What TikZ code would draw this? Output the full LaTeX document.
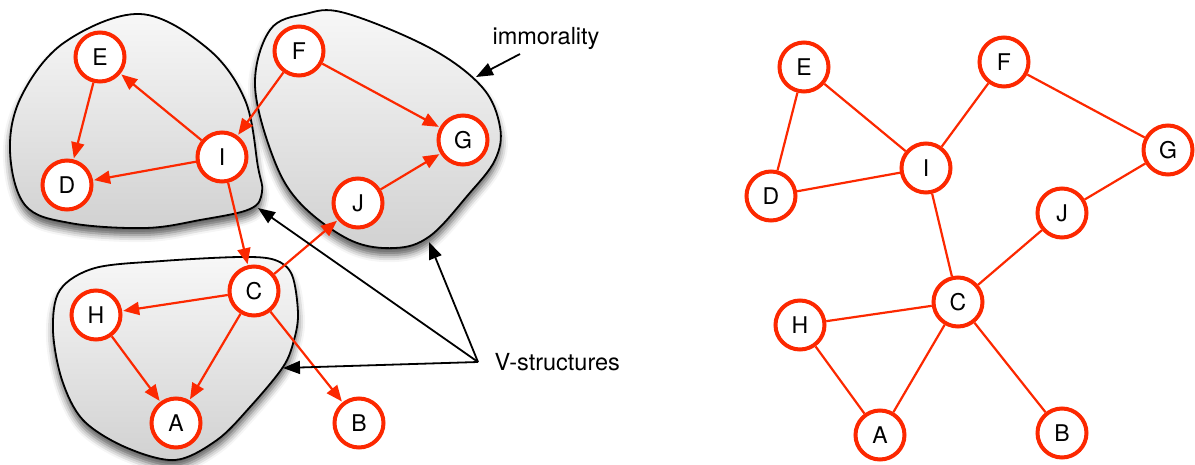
\documentclass[tikz,border=0pt]{standalone}
\usepackage{fontspec}
\setmainfont{TeX Gyre Heros}
\usetikzlibrary{arrows.meta,shadows.blur}
\definecolor{gred}{RGB}{252,40,0}
\tikzset{
  gnode/.style={circle,draw=gred,line width=4pt,fill=white,minimum size=49pt,inner sep=0pt,
    font=\fontsize{23}{26}\selectfont},
  darr/.style={draw=gred,line width=2.2pt,-{Triangle[length=16pt,width=13pt]},shorten >=1pt},
  uedge/.style={draw=gred,line width=2.2pt},
  blackarr/.style={draw=black,line width=1.8pt,-{Triangle[length=17pt,width=13pt]}},
  blob/.style={draw=black,line width=1.8pt,top color=gray!6,bottom color=gray!36,
    blur shadow={shadow xshift=0pt,shadow yshift=-7pt,shadow blur radius=7pt,shadow opacity=65}},
  lbl/.style={font=\fontsize{23.5}{26}\selectfont}
}
\begin{document}
\begin{tikzpicture}[x=1pt,y=-1pt]
\useasboundingbox (0,0) rectangle (1195,464);
% blobs
\path[blob] plot[smooth cycle,tension=0.6] coordinates {
 (140,14) (207,48) (245,100) (258,167) (262,192) (250,209) (200,220) (145,228)
 (70,223) (25,205) (10,150) (22,95) (65,42)};
\path[blob] plot[smooth cycle,tension=0.6] coordinates {
 (345,13) (430,48) (482,87) (500,127) (495,160) (468,195) (430,236) (395,248)
 (350,240) (300,203) (273,157) (255,85) (270,30) (305,14)};
\path[blob] plot[smooth cycle,tension=0.55] coordinates {
 (95,268) (162,261) (240,257) (275,260) (292,275) (298,313) (294,340) (283,367)
 (250,407) (217,440) (175,460) (125,447) (83,420) (62,380) (53,330) (60,290)};
% left graph nodes
\node[gnode] (lE) at (100,57) {E};
\node[gnode] (lD) at (67,185) {D};
\node[gnode] (lI) at (222,157) {I};
\node[gnode] (lF) at (299,51) {F};
\node[gnode] (lG) at (463,140) {G};
\node[gnode] (lJ) at (358,203) {J};
\node[gnode] (lC) at (254,291) {C};
\node[gnode] (lH) at (96,315) {H};
\node[gnode] (lA) at (176,423) {A};
\node[gnode] (lB) at (359,423) {B};
% left directed edges
\draw[darr] (lI) -- (lE);
\draw[darr] (lE) -- (lD);
\draw[darr] (lI) -- (lD);
\draw[darr] (lF) -- (lI);
\draw[darr] (lF) -- (lG);
\draw[darr] (lJ) -- (lG);
\draw[darr] (lI) -- (lC);
\draw[darr] (lC) -- (lJ);
\draw[darr] (lC) -- (lH);
\draw[darr] (lC) -- (lA);
\draw[darr] (lH) -- (lA);
\draw[darr] (lC) -- (lB);
% labels and black arrows
\node[lbl] (imm) at (546,38) {immorality};
\coordinate (immS) at (520,54);
\coordinate (immT) at (476,77);
\draw[blackarr] (immS) -- (immT);
\node[lbl,anchor=west] (vs) at (491,362) {V-structures};
\coordinate (vsS) at (478,362);
\coordinate (v1) at (258,208);
\coordinate (v2) at (429,242);
\coordinate (v3) at (283,368);
\draw[blackarr] (vsS) -- (v1);
\draw[blackarr] (vsS) -- (v2);
\draw[blackarr] (vsS) -- (v3);
% right graph nodes
\node[gnode] (rE) at (804,67) {E};
\node[gnode] (rF) at (1004,62) {F};
\node[gnode] (rI) at (926,168) {I};
\node[gnode] (rD) at (771,196) {D};
\node[gnode] (rG) at (1168,150) {G};
\node[gnode] (rJ) at (1062,213) {J};
\node[gnode] (rC) at (958,302) {C};
\node[gnode] (rH) at (800,325) {H};
\node[gnode] (rA) at (880,435) {A};
\node[gnode] (rB) at (1062,433) {B};
\draw[uedge] (rE) -- (rD);
\draw[uedge] (rE) -- (rI);
\draw[uedge] (rI) -- (rD);
\draw[uedge] (rF) -- (rI);
\draw[uedge] (rF) -- (rG);
\draw[uedge] (rG) -- (rJ);
\draw[uedge] (rI) -- (rC);
\draw[uedge] (rJ) -- (rC);
\draw[uedge] (rH) -- (rC);
\draw[uedge] (rH) -- (rA);
\draw[uedge] (rC) -- (rA);
\draw[uedge] (rC) -- (rB);
\end{tikzpicture}
\end{document}
